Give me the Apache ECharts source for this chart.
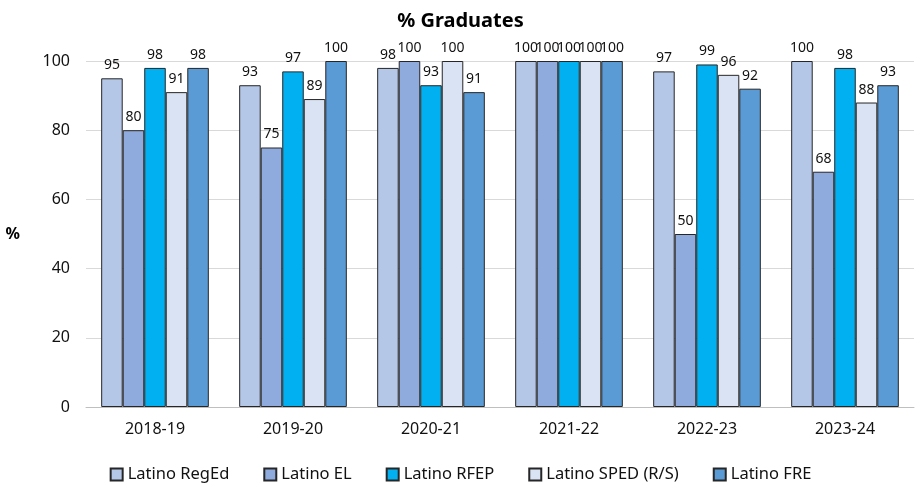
<!DOCTYPE html>
<html><head><meta charset="utf-8">
<script src="https://cdn.jsdelivr.net/npm/echarts@6/dist/echarts.min.js"></script>
<style>html,body{margin:0;padding:0;background:#fff}#c{width:921px;height:490px}</style>
</head><body><div id="c"></div>
<script>
const categories = ['2018-19','2019-20','2020-21','2021-22','2022-23','2023-24'];
const seriesNames = ['Latino RegEd','Latino EL','Latino RFEP','Latino SPED (R/S)','Latino FRE'];
const regEd = [95, 93, 98, 100, 97, 100];
const el = [80, 75, 100, 100, 50, 68];
const rfep = [98, 97, 93, 100, 99, 98];
const sped = [91, 89, 100, 100, 96, 88];
const fre = [98, 100, 91, 100, 92, 93];
const yTicks = [0, 20, 40, 60, 80, 100];
const colors = ['#B4C7E7','#8FAADC','#00B0F0','#DAE3F3','#5B9BD5'];
const values = [regEd, el, rfep, sped, fre];
const font = 'Noto Sans';
const chart = echarts.init(document.getElementById('c'));
chart.setOption({
  animation: false,
  textStyle: {fontFamily: font},
  title: {text: '% Graduates', left: 'center', top: 6,
    textStyle: {fontFamily: font, fontSize: 20, fontWeight: 'bold', color: '#000'}},
  grid: {left: 86, right: 7, top: 61, bottom: 83},
  legend: {bottom: 2, itemWidth: 12, itemHeight: 12, itemGap: 34,
    textStyle: {fontFamily: font, fontSize: 16.5, color: '#111'},
    icon: 'rect'},
  xAxis: {type: 'category', data: categories,
    axisLine: {lineStyle: {color: '#bfbfbf', width: 1}},
    axisTick: {show: false},
    axisLabel: {fontSize: 16, color: '#111', margin: 14, fontFamily: font}},
  yAxis: {type: 'value', min: yTicks[0], max: yTicks[yTicks.length-1], interval: 20,
    name: '%', nameLocation: 'middle', nameGap: 66, nameRotate: 0,
    nameTextStyle: {fontSize: 16, fontWeight: 'bold', color: '#000', fontFamily: font},
    axisLabel: {fontSize: 16, color: '#111', margin: 16, fontFamily: font},
    splitLine: {lineStyle: {color: '#d9d9d9', width: 1}},
    axisLine: {show: false}, axisTick: {show: false}},
  series: seriesNames.map((n, i) => ({
    name: n, type: 'bar', data: values[i],
    barCategoryGap: '22%', barGap: '0%',
    itemStyle: {color: colors[i], borderColor: '#262626', borderWidth: 1},
    label: {show: true, position: 'top', distance: 6, fontSize: 14, color: '#111', fontFamily: font}
  }))
});
</script></body></html>
